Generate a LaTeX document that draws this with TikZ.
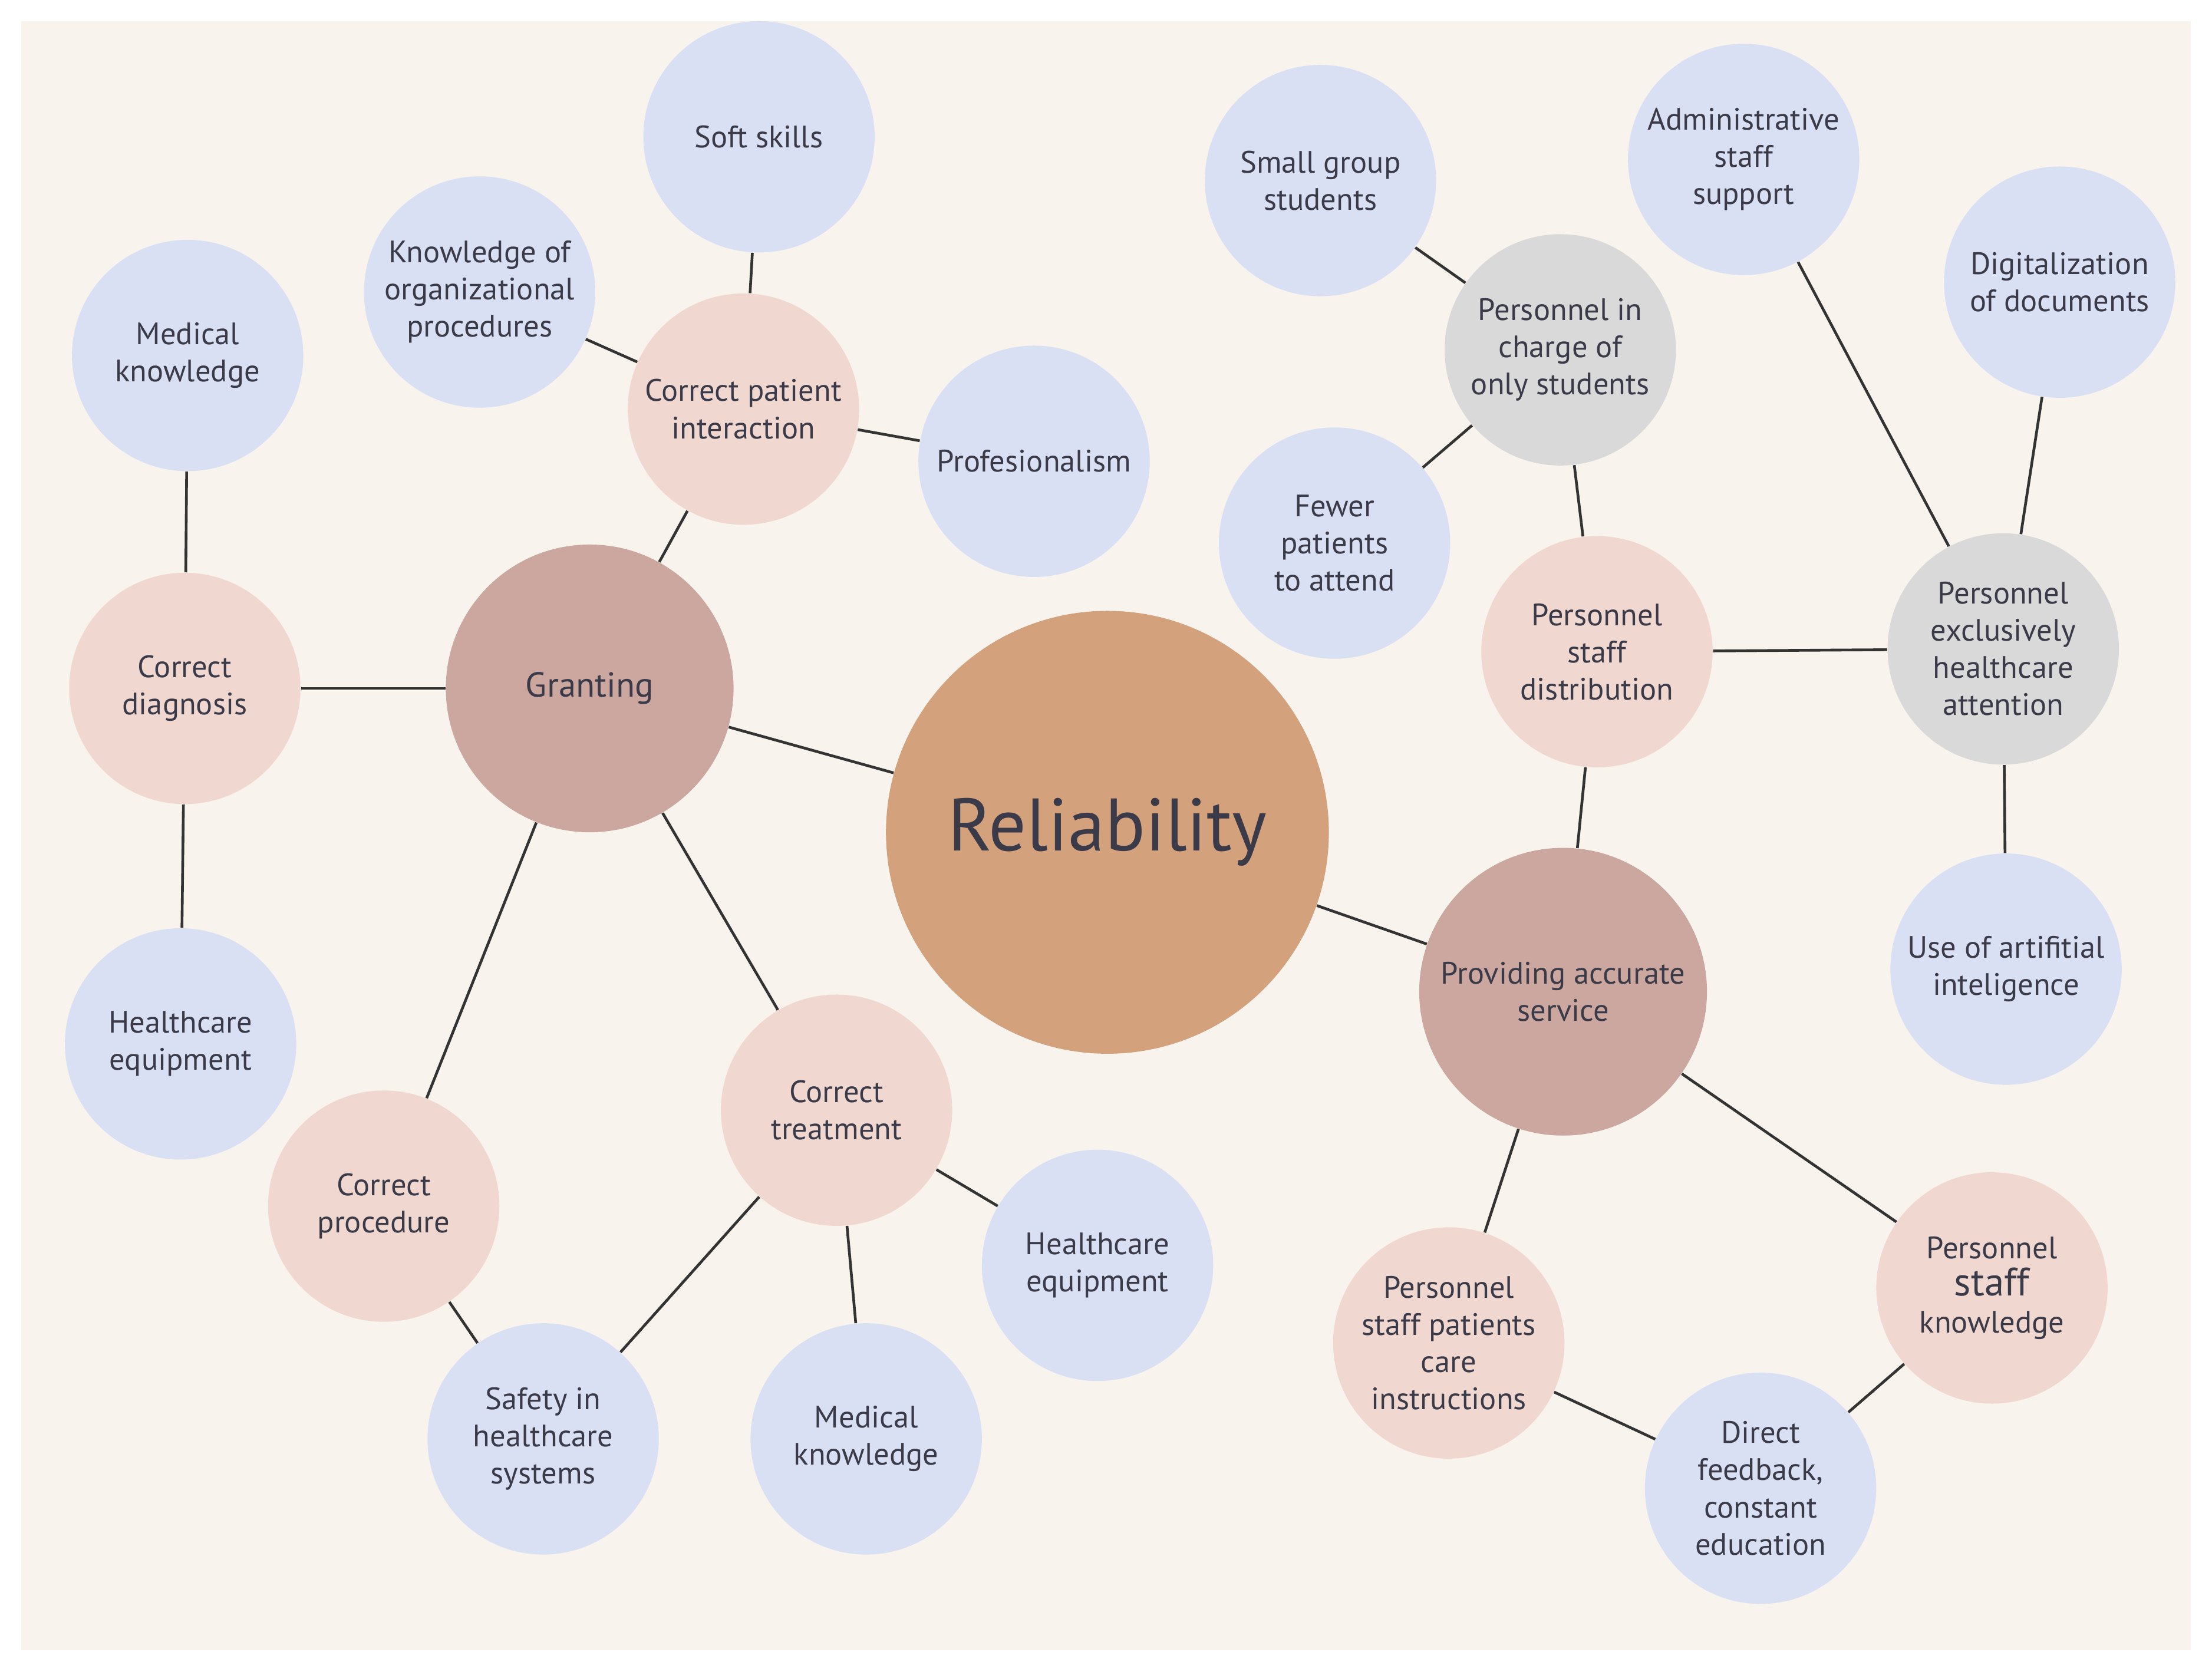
\documentclass[tikz,border=0pt]{standalone}
\usepackage{fontspec}
\setmainfont{PT Sans}
\definecolor{bg}{HTML}{F8F3EC}
\definecolor{cblue}{HTML}{D9E0F4}
\definecolor{cpink}{HTML}{F0D8D0}
\definecolor{cgray}{HTML}{D9D9D9}
\definecolor{cmauve}{HTML}{CBA7A0}
\definecolor{crel}{HTML}{D3A27D}
\definecolor{txt}{HTML}{3A3A48}
\begin{document}
\begin{tikzpicture}[x=0.02cm,y=-0.02cm,
 c/.style={circle,inner sep=0pt,minimum size=3.28cm,align=center,text=txt,font=\fontsize{12.5}{15}\selectfont},
 b/.style={c,fill=cblue}, p/.style={c,fill=cpink}, g/.style={c,fill=cgray},
 m/.style={c,fill=cmauve,minimum size=4.08cm},
 e/.style={draw=black!80,line width=1.1pt}]
\fill[white] (0,0) rectangle (1568,1187);
\fill[bg] (15,15) rectangle (1553,1170);
\useasboundingbox (0,0) rectangle (1568,1187);
\node[c,fill=crel,minimum size=6.28cm,font=\fontsize{30}{34}\selectfont] (rel) at (785,590) {Reliability};
\node[m,font=\fontsize{14}{17}\selectfont] (gr) at (418,488) {Granting};
\node[m] (pas) at (1108,703) {Providing accurate\\service};
\node[p] (cpi) at (527,290) {Correct patient\\interaction};
\node[b] (soft) at (538,97) {Soft skills};
\node[b] (kop) at (340,207) {Knowledge of\\organizational\\procedures};
\node[b] (prof) at (733,327) {Profesionalism};
\node[b] (mk1) at (133,252) {Medical\\knowledge};
\node[p] (cd) at (131,488) {Correct\\diagnosis};
\node[b] (he1) at (128,740) {Healthcare\\equipment};
\node[p] (cp) at (272,855) {Correct\\procedure};
\node[p] (ct) at (593,787) {Correct\\treatment};
\node[b] (he2) at (778,897) {Healthcare\\equipment};
\node[b] (mk2) at (614,1020) {Medical\\knowledge};
\node[b] (saf) at (385,1020) {Safety in\\healthcare\\systems};
\node[b] (sgs) at (936,128) {Small group\\students};
\node[g] (pic) at (1106,248) {Personnel in\\charge of\\only students};
\node[b] (few) at (946,385) {Fewer\\patients\\to attend};
\node[p] (psd) at (1132,462) {Personnel\\staff\\distribution};
\node[b] (adm) at (1236,113) {Administrative\\staff\\support};
\node[b] (dig) at (1460,200) {Digitalization\\of documents};
\node[g] (peh) at (1420,460) {Personnel\\exclusively\\healthcare\\attention};
\node[b] (ai) at (1422,687) {Use of artifitial\\inteligence};
\node[p] (pspc) at (1027,952) {Personnel\\staff patients\\care\\instructions};
\node[p] (psk) at (1412,913) {Personnel\\{\fontsize{16}{17}\selectfont staff}\\knowledge};
\node[b] (dfb) at (1248,1055) {Direct\\feedback,\\constant\\education};
\foreach \a/\b in {rel/gr,rel/pas,gr/cpi,cpi/soft,cpi/kop,cpi/prof,gr/cd,cd/mk1,cd/he1,gr/cp,gr/ct,cp/saf,ct/saf,ct/mk2,ct/he2,pas/psd,psd/pic,pic/sgs,pic/few,psd/peh,peh/adm,peh/dig,peh/ai,pas/pspc,pas/psk,pspc/dfb,psk/dfb}
  \draw[e] (\a) -- (\b);
\end{tikzpicture}
\end{document}
